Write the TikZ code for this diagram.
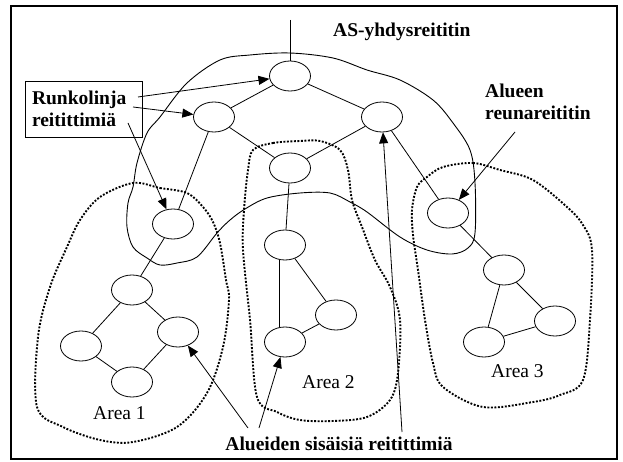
\documentclass[tikz,border=0pt]{standalone}
\usepackage{fontspec}
\setmainfont{Liberation Serif}
\usetikzlibrary{arrows.meta,shapes.geometric}
\begin{document}
\begin{tikzpicture}[x=1pt,y=-1pt,
  router/.style={draw, ellipse, minimum width=41pt, minimum height=30pt, inner sep=0pt, line width=0.8pt},
  link/.style={line width=0.8pt},
  arr/.style={line width=0.8pt, -{Triangle[length=11pt,width=9pt]}},
  lbl/.style={font=\fontsize{19.5}{22}\selectfont\bfseries, inner sep=0pt},
  arealbl/.style={font=\fontsize{19.5}{22}\selectfont, inner sep=0pt},
  dots/.style={line width=1.9pt, dash pattern=on 1.9pt off 1.6pt},
  zone/.style={line width=0.9pt}]
\useasboundingbox (0,0) rectangle (623,462);
\fill[white] (0,0) rectangle (623,462);
\draw[line width=2pt] (11,6) rectangle (617,459);

% backbone zone (solid)
\draw[zone] plot[smooth cycle, tension=0.55] coordinates {
 (290,53) (333,58) (367,70) (400,80) (433,100) (453,123) (470,150) (475,183)
 (475,233) (468,248) (452,254) (427,250) (400,237) (367,212) (350,202) (330,193)
 (300,193) (267,198) (245,209) (230,220) (217,233) (197,257) (177,263) (160,265)
 (147,258) (133,247) (127,227) (128,203) (133,187) (137,163) (147,133) (160,117)
 (187,83) (220,60) (250,55)};

% area 1
\draw[dots] plot[smooth cycle, tension=0.55] coordinates {
 (133,183) (160,188) (187,193) (203,207) (213,222) (220,243) (226,280) (229,300)
 (223,347) (207,393) (177,427) (133,442) (100,440) (63,427) (37,407) (38,337)
 (50,287) (67,247) (80,220) (100,197)};
% area 2
\draw[dots] plot[smooth cycle, tension=0.55] coordinates {
 (253,150) (273,143) (300,141) (320,141) (340,150) (348,170) (352,200) (362,227)
 (375,260) (390,287) (400,320) (398,373) (390,400) (367,417) (333,421) (300,420)
 (277,412) (257,397) (250,320) (243,250) (244,210) (248,170)};
% area 3
\draw[dots] plot[smooth cycle, tension=0.55] coordinates {
 (443,167) (473,163) (500,170) (533,180) (567,207) (583,225) (592,250) (590,320)
 (583,380) (560,395) (533,402) (483,407) (443,387) (433,363) (425,320) (418,270)
 (413,235) (412,210) (417,187) (427,177)};

% routers
\node[router] (A) at (290,76) {};
\node[router] (B) at (214,117) {};
\node[router] (C) at (290,168) {};
\node[router] (D) at (173,224) {};
\node[router] (E) at (382,117) {};
\node[router] (F) at (448,213) {};
\node[router] (a1t) at (132,290) {};
\node[router] (a1r) at (178,332) {};
\node[router] (a1l) at (81,346) {};
\node[router] (a1b) at (132,382) {};
\node[router] (a2t) at (285,245) {};
\node[router] (a2b) at (285,342) {};
\node[router] (a2r) at (336,315) {};
\node[router] (a3t) at (504,270) {};
\node[router] (a3r) at (555,321) {};
\node[router] (a3l) at (484,342) {};

\coordinate (asin) at (290,20);
\draw[link] (asin) -- (A);
\draw[link] (A) -- (B);
\draw[link] (A) -- (E);
\draw[link] (B) -- (C);
\draw[link] (B) -- (D);
\draw[link] (C) -- (E);
\draw[link] (E) -- (F);
\draw[link] (C) -- (a2t);
\draw[link] (D) -- (a1t);
\draw[link] (a1t) -- (a1l);
\draw[link] (a1t) -- (a1r);
\draw[link] (a1l) -- (a1b);
\draw[link] (a1r) -- (a1b);
\draw[link] (a2t.250) -- (a2b.110);
\draw[link] (a2t) -- (a2r);
\draw[link] (a2b) -- (a2r);
\draw[link] (F) -- (a3t);
\draw[link] (a3t) -- (a3l);
\draw[link] (a3t) -- (a3r);
\draw[link] (a3l) -- (a3r);

% labels
\node[lbl, draw, line width=0.8pt, align=left, text width=103pt, inner xsep=7pt,
      minimum height=56pt, anchor=center] (rbox) at (83.5,109)
      {Runkolinja\\reitittimiä};
\node[lbl, anchor=base west] (as) at (333,37) {AS-yhdysreititin};
\node[lbl, anchor=base west] (alueen) at (485,98) {Alueen};
\node[lbl, anchor=base west] (reuna) at (485,120) {reunareititin};
\node[lbl, anchor=base] (sis) at (339,450) {Alueiden sisäisiä reitittimiä};
\node[arealbl, anchor=base west] (ar1) at (93,419) {Area 1};
\node[arealbl, anchor=base west] (ar2) at (302,388) {Area 2};
\node[arealbl, anchor=base west] (ar3) at (491,377) {Area 3};

% arrows
\coordinate (r1) at (138,97);
\coordinate (r2) at (133,107);
\coordinate (r3) at (128,123);
\draw[arr] (r1) -- (A);
\draw[arr] (r2) -- (B);
\draw[arr] (r3) -- (D);
\coordinate (ra) at (515,132);
\draw[arr] (ra) -- (F);
\coordinate (s1) at (248,428);
\coordinate (s2) at (259,428);
\coordinate (s3) at (402,432);
\draw[arr] (s1) -- (a1r);
\draw[arr] (s2) -- (a2b);
\draw[arr] (s3) -- (E);
\end{tikzpicture}
\end{document}
